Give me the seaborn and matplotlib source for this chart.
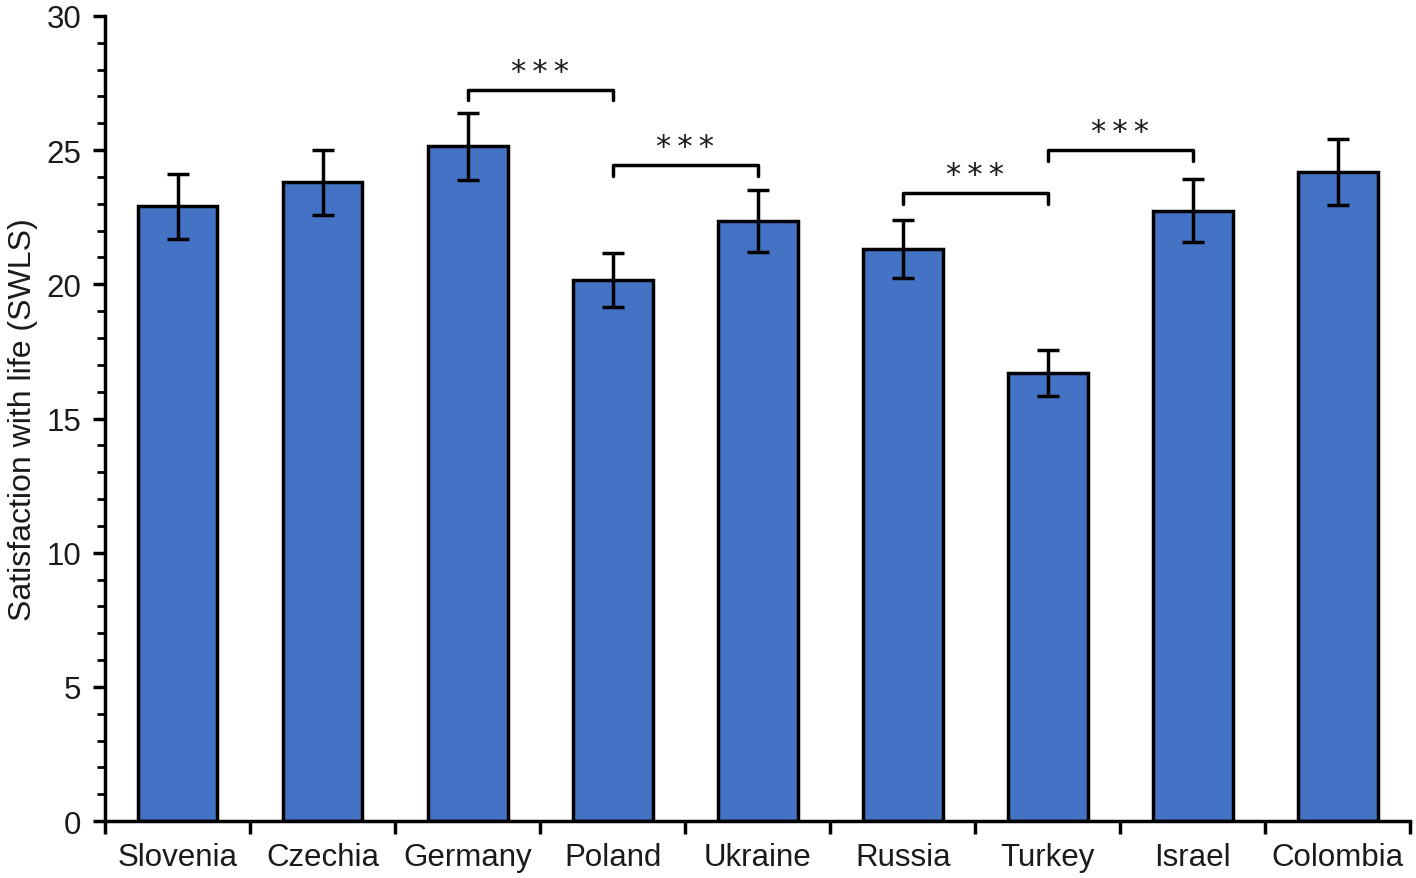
import numpy as np
import pandas as pd
import seaborn as sns
import matplotlib.pyplot as plt
from matplotlib.ticker import MultipleLocator, FixedLocator

countries = ['Slovenia', 'Czechia', 'Germany', 'Poland', 'Ukraine',
             'Russia', 'Turkey', 'Israel', 'Colombia']
means = [22.9, 23.8, 25.15, 20.15, 22.35, 21.3, 16.7, 22.75, 24.2]
errors = [1.2, 1.2, 1.25, 1.0, 1.15, 1.08, 0.85, 1.17, 1.23]

# significance brackets: (left, right, bracket height)
pairs = [('Germany', 'Poland', 27.25), ('Poland', 'Ukraine', 24.45),
         ('Russia', 'Turkey', 23.4), ('Turkey', 'Israel', 25.0)]
stars = '*\u2009*\u2009*'

sns.set_style('ticks')
plt.rcParams['font.family'] = ['Liberation Sans', 'DejaVu Sans']

df = pd.DataFrame({'country': countries, 'swls': means})

fig = plt.figure(figsize=(14.16, 8.79), dpi=100)
ax = fig.add_axes([0.0742, 0.0648, 0.9218, 0.9159])

sns.barplot(data=df, x='country', y='swls', color='#4472C4', saturation=1,
            width=0.55, edgecolor='black', linewidth=2.5, errorbar=None, ax=ax)
ax.errorbar(np.arange(len(countries)), means, yerr=errors, fmt='none',
            ecolor='black', elinewidth=2.5, capsize=8, capthick=2.5)

idx = {c: i for i, c in enumerate(countries)}
for a, b, h in pairs:
    x1, x2 = idx[a], idx[b]
    ax.plot([x1, x1, x2, x2], [h - 0.4, h, h, h - 0.4], color='black', lw=2.5,
            solid_joinstyle='round', solid_capstyle='round')
    ax.text((x1 + x2) / 2, h + 0.15, stars, ha='center', va='bottom',
            fontsize=22, color='#1a1a1a', family='DejaVu Sans')

ax.set_xlim(-0.5, len(countries) - 0.5)
ax.set_ylim(0, 30)
ax.yaxis.set_major_locator(MultipleLocator(5))
ax.yaxis.set_minor_locator(MultipleLocator(1))
ax.xaxis.set_minor_locator(FixedLocator(np.arange(-0.5, len(countries), 1)))
ax.tick_params(axis='x', which='major', length=0, pad=15, labelsize=22.5,
               labelcolor='#1a1a1a')
ax.tick_params(axis='x', which='minor', length=9, width=2.5, direction='out',
               color='black')
ax.tick_params(axis='y', which='major', length=9, width=2.5, labelsize=22.5,
               pad=8, color='black', labelcolor='#1a1a1a')
ax.tick_params(axis='y', which='minor', length=6, width=2, color='black')
ax.set_xlabel('')
ax.set_ylabel('Satisfaction with life (SWLS)', fontsize=23, labelpad=6,
              color='#1a1a1a')
for s in ['top', 'right']:
    ax.spines[s].set_visible(False)
for s in ['left', 'bottom']:
    ax.spines[s].set_linewidth(2.5)
    ax.spines[s].set_color('black')

fig.savefig('out.png', dpi=100)
